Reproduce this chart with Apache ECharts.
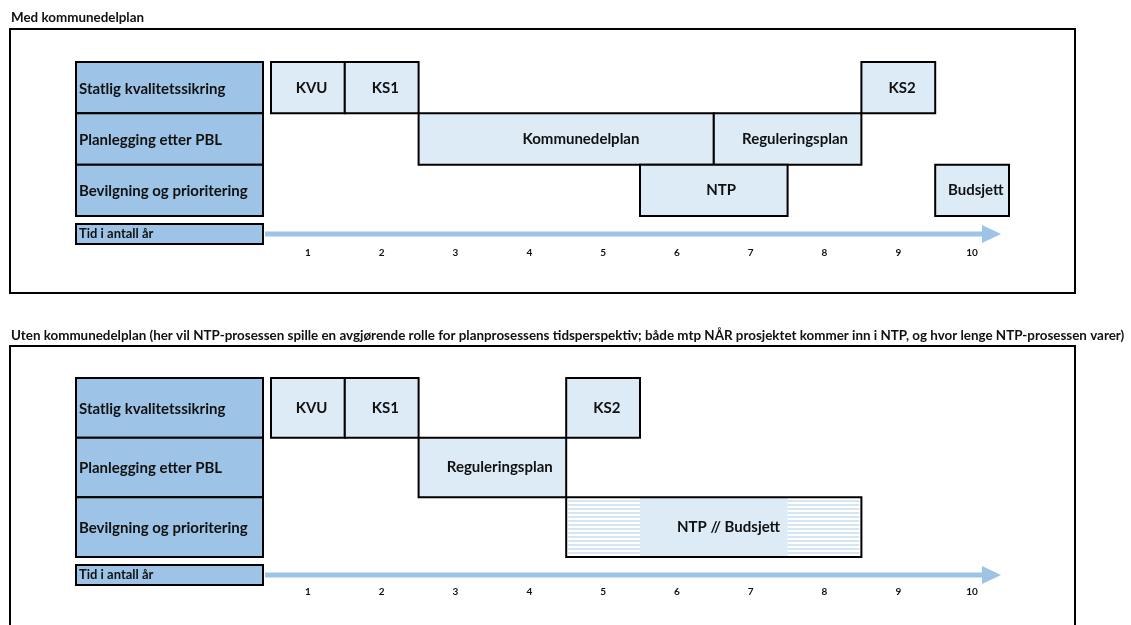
<!DOCTYPE html>
<html>
<head>
<meta charset="utf-8">
<script src="https://cdn.jsdelivr.net/npm/echarts@6/dist/echarts.min.js"></script>
<style>
  html, body { margin: 0; padding: 0; background: #fff; }
  #main { width: 1131px; height: 625px; }
</style>
</head>
<body>
<div id="main"></div>
<script>
var years = ['1', '2', '3', '4', '5', '6', '7', '8', '9', '10'];
var rows = ['Statlig kvalitetssikring', 'Planlegging etter PBL', 'Bevilgning og prioritering'];
var timeLabel = 'Tid i antall år';

var medTitle = 'Med kommunedelplan';
var medNames = ['KVU', 'KS1', 'Kommunedelplan', 'Reguleringsplan', 'KS2', 'NTP', 'Budsjett'];
var medRow   = [0, 0, 1, 1, 0, 2, 2];
var medStart = [1, 2, 3, 7, 9, 6, 10];
var medEnd   = [1, 2, 6, 8, 9, 7, 10];
// solid (certain) part of each phase, the rest is hatched
var medSolidStart = [1, 2, 3, 7, 9, 6, 10];
var medSolidEnd   = [1, 2, 6, 8, 9, 7, 10];

var utenTitle = 'Uten kommunedelplan (her vil NTP-prosessen spille en avgjørende rolle for planprosessens tidsperspektiv; både mtp NÅR prosjektet kommer inn i NTP, og hvor lenge NTP-prosessen varer)';
var utenNames = ['KVU', 'KS1', 'Reguleringsplan', 'KS2', 'NTP // Budsjett'];
var utenRow   = [0, 0, 1, 0, 2];
var utenStart = [1, 2, 3, 5, 5];
var utenEnd   = [1, 2, 4, 5, 8];
var utenSolidStart = [1, 2, 3, 5, 6];
var utenSolidEnd   = [1, 2, 4, 5, 7];

var FONT = 'Lato, "Open Sans", sans-serif';
var cellFill = '#DDEBF7';
var headFill = '#9DC3E6';
var arrowColor = '#9DC3E6';

// striped fill for the uncertain part
var hatch = document.createElement('canvas');
hatch.width = 4; hatch.height = 4;
var hctx = hatch.getContext('2d');
hctx.fillStyle = '#ffffff'; hctx.fillRect(0, 0, 4, 4);
hctx.fillStyle = '#D6E5F3'; hctx.fillRect(0, 0, 4, 2);

function makeTasks(row, start, end, s0, s1) {
  return row.map(function (r, i) {
    return [r, start[i] - 1, end[i] - 1, s0[i] - 1, s1[i] - 1];
  });
}

function taskRenderer(names) {
  return function (params, api) {
    var row = api.value(0);
    var band = api.size([1, 1]);
    var a = api.coord([api.value(1), row]);
    var b = api.coord([api.value(2), row]);
    var sa = api.coord([api.value(3), row]);
    var sb = api.coord([api.value(4), row]);
    var x0 = a[0] - band[0] / 2, x1 = b[0] + band[0] / 2;
    var y0 = a[1] - band[1] / 2, h = band[1];
    var w = x1 - x0;
    var children = [];
    if (api.value(3) !== api.value(1) || api.value(4) !== api.value(2)) {
      children.push({ type: 'rect', shape: { x: x0 + 2, y: y0 + 2, width: w - 4, height: h - 4 },
        style: { fill: { image: hatch, repeat: 'repeat' } } });
    }
    var sx0 = sa[0] - band[0] / 2, sx1 = sb[0] + band[0] / 2;
    children.push({ type: 'rect', shape: { x: sx0, y: y0, width: sx1 - sx0, height: h },
      style: { fill: cellFill } });
    children.push({ type: 'rect', shape: { x: x0, y: y0, width: w, height: h },
      style: { fill: 'none', stroke: '#000', lineWidth: 2 } });
    children.push({ type: 'text', x: x0 + w * 0.55, y: y0 + h / 2,
      style: { text: names[params.dataIndex], font: 'bold 15px ' + FONT, fill: '#111',
        align: 'center', verticalAlign: 'middle' } });
    return { type: 'group', children: children };
  };
}

function renderHead(params, api) {
  var cs = params.coordSys;
  var band = api.size([1, 1]);
  var c = api.coord([0, api.value(0)]);
  var x = cs.x - 8 - 187, y = c[1] - band[1] / 2;
  return { type: 'group', children: [
    { type: 'rect', shape: { x: x, y: y, width: 187, height: band[1] },
      style: { fill: headFill, stroke: '#000', lineWidth: 2 } },
    { type: 'text', x: x + 3, y: y + band[1] / 2 + 1,
      style: { text: rows[params.dataIndex], font: 'bold 15px ' + FONT, fill: '#111',
        align: 'left', verticalAlign: 'middle' } }
  ] };
}

function renderTime(params, api) {
  var cs = params.coordSys;
  var x = cs.x - 8 - 187, y = cs.y + cs.height + 8;
  var mid = y + 10;
  var tip = cs.x + cs.width - 8;
  return { type: 'group', children: [
    { type: 'rect', shape: { x: x, y: y, width: 187, height: 20 },
      style: { fill: headFill, stroke: '#000', lineWidth: 2 } },
    { type: 'text', x: x + 3, y: mid,
      style: { text: timeLabel, font: 'bold 13px ' + FONT, fill: '#111',
        align: 'left', verticalAlign: 'middle' } },
    { type: 'rect', shape: { x: cs.x - 6, y: mid - 2.5, width: tip - 19 - cs.x + 6, height: 5 },
      style: { fill: arrowColor } },
    { type: 'polygon', shape: { points: [[tip - 19, mid - 9], [tip, mid], [tip - 19, mid + 9]] },
      style: { fill: arrowColor } }
  ] };
}

var grids = [
  { left: 271, right: 122, top: 62, height: 154 },
  { left: 271, right: 122, top: 378, height: 179 }
];

function xAxisFor(i, margin) {
  return {
    type: 'category', gridIndex: i, data: years, boundaryGap: true,
    axisLine: { show: false }, axisTick: { show: false }, splitLine: { show: false },
    axisLabel: { margin: margin, color: '#111', fontFamily: FONT, fontWeight: 'bold', fontSize: 10 }
  };
}
function yAxisFor(i) {
  return { type: 'category', gridIndex: i, data: rows, inverse: true, show: false };
}

var panels = [
  { names: medNames, data: makeTasks(medRow, medStart, medEnd, medSolidStart, medSolidEnd) },
  { names: utenNames, data: makeTasks(utenRow, utenStart, utenEnd, utenSolidStart, utenSolidEnd) }
];

var series = [];
panels.forEach(function (p, i) {
  series.push({ type: 'custom', xAxisIndex: i, yAxisIndex: i, renderItem: renderHead,
    encode: { y: 0 }, data: rows.map(function (r, k) { return [k]; }), silent: true });
  series.push({ type: 'custom', xAxisIndex: i, yAxisIndex: i, renderItem: renderTime,
    encode: { y: 0 }, data: [[0]], silent: true });
  series.push({ type: 'custom', xAxisIndex: i, yAxisIndex: i, renderItem: taskRenderer(p.names),
    encode: { x: [1, 2], y: 0 }, data: p.data, silent: true });
});

var myChart = echarts.init(document.getElementById('main'));
var option = {
  animation: false,
  title: [
    { text: medTitle, left: 11, top: 11, padding: 0,
      textStyle: { fontFamily: FONT, fontWeight: 'bold', fontSize: 13.4, color: '#111' } },
    { text: utenTitle, left: 11, top: 329, padding: 0,
      textStyle: { fontFamily: FONT, fontWeight: 'bold', fontSize: 13.4, color: '#111' } }
  ],
  graphic: [
    { type: 'rect', shape: { x: 10, y: 29, width: 1065, height: 264 },
      style: { fill: 'none', stroke: '#000', lineWidth: 2 } },
    { type: 'rect', shape: { x: 10, y: 346, width: 1065, height: 300 },
      style: { fill: 'none', stroke: '#000', lineWidth: 2 } }
  ],
  grid: grids,
  xAxis: [xAxisFor(0, 32), xAxisFor(1, 30)],
  yAxis: [yAxisFor(0), yAxisFor(1)],
  series: series
};
myChart.setOption(option);
</script>
</body>
</html>
